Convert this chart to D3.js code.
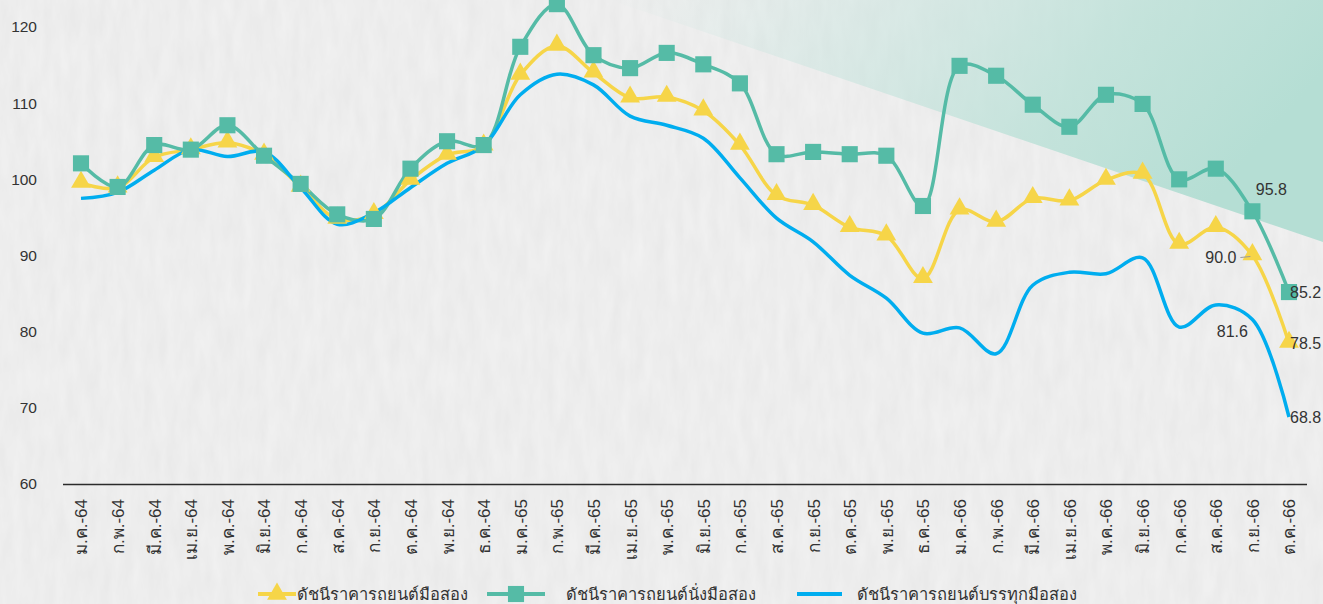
<!DOCTYPE html>
<html>
<head>
<meta charset="utf-8">
<script src="https://cdn.jsdelivr.net/npm/d3@7"></script>
<style>
  body { margin: 0; background: #efeeee; }
  svg { display: block; }
  text { font-family: "Liberation Sans", "DejaVu Sans", sans-serif; fill: #333; }
</style>
</head>
<body>
<div id="chart"></div>
<script>
// chart data
const months = ["ม.ค.-64","ก.พ.-64","มี.ค.-64","เม.ย.-64","พ.ค.-64","มิ.ย.-64","ก.ค.-64","ส.ค.-64","ก.ย.-64","ต.ค.-64","พ.ย.-64","ธ.ค.-64",
  "ม.ค.-65","ก.พ.-65","มี.ค.-65","เม.ย.-65","พ.ค.-65","มิ.ย.-65","ก.ค.-65","ส.ค.-65","ก.ย.-65","ต.ค.-65","พ.ย.-65","ธ.ค.-65",
  "ม.ค.-66","ก.พ.-66","มี.ค.-66","เม.ย.-66","พ.ค.-66","มิ.ย.-66","ก.ค.-66","ส.ค.-66","ก.ย.-66","ต.ค.-66"];
const usedCar = [99.5,98.9,102.9,103.9,104.8,103.2,99.0,94.8,95.4,99.9,103.2,104.4,
  113.7,117.5,114.0,110.7,110.8,109.0,104.5,97.9,96.6,93.7,92.6,87.0,
  96.0,94.4,97.5,97.2,99.9,100.7,91.5,93.7,90.0,78.5];
const usedPassenger = [102.1,99.0,104.5,103.9,107.1,103.1,99.4,95.4,94.8,101.4,105.0,104.5,
  117.4,123.0,116.3,114.6,116.6,115.1,112.6,103.3,103.6,103.3,103.1,96.5,
  114.9,113.6,109.8,106.9,111.1,109.9,100.0,101.4,95.8,85.2];
const usedPickup = [97.5,98.3,101.2,103.9,103.0,103.6,98.9,94.1,95.6,98.9,102.1,104.4,
  111.1,113.8,112.4,108.3,107.1,105.4,100.2,94.9,91.8,87.4,84.4,79.8,
  80.5,77.1,86.1,87.8,87.6,89.7,80.6,83.5,81.6,68.8];
const yTicks = [60,70,80,90,100,110,120];
const seriesNames = ["ดัชนีราคารถยนต์มือสอง","ดัชนีราคารถยนต์นั่งมือสอง","ดัชนีราคารถยนต์บรรทุกมือสอง"];

const WIDTH = 1323, HEIGHT = 604;
const COLORS = ["#f6d548", "#55bba6", "#00adef"];

const svg = d3.select("#chart").append("svg")
    .attr("width", WIDTH)
    .attr("height", HEIGHT);

// background + teal corner
const defs = svg.append("defs");
const grad = defs.append("linearGradient").attr("id", "teal")
    .attr("x1", "0").attr("y1", "0").attr("x2", "1").attr("y2", "0.3");
grad.append("stop").attr("offset", "0").attr("stop-color", "#c3e3dc").attr("stop-opacity", 0);
grad.append("stop").attr("offset", "0.35").attr("stop-color", "#c3e3dc").attr("stop-opacity", 0.45);
grad.append("stop").attr("offset", "0.7").attr("stop-color", "#bde1d8").attr("stop-opacity", 0.85);
grad.append("stop").attr("offset", "1").attr("stop-color", "#b5ded4").attr("stop-opacity", 1);

const filt = defs.append("filter").attr("id", "paper");
filt.append("feTurbulence").attr("type", "fractalNoise")
    .attr("baseFrequency", "0.09 0.025").attr("numOctaves", 3).attr("seed", 4);
filt.append("feColorMatrix").attr("type", "matrix")
    .attr("values", "0 0 0 0 1  0 0 0 0 1  0 0 0 0 1  0 0 0 0.45 -0.08");

svg.append("rect").attr("width", WIDTH).attr("height", HEIGHT).attr("fill", "#eaeaea");
svg.append("rect").attr("width", WIDTH).attr("height", HEIGHT).attr("filter", "url(#paper)");
svg.append("path")
    .attr("d", "M610,0 L1323,0 L1323,242 Z")
    .attr("fill", "url(#teal)");

const x = d3.scalePoint().domain(months).range([81, 1289]);
const y = d3.scaleLinear().domain([60, 120]).range([484, 27]);

// y axis labels only
const yAxis = svg.append("g")
    .attr("transform", "translate(37,0)")
    .call(d3.axisLeft(y).tickValues(yTicks).tickSize(0).tickPadding(0));
yAxis.select(".domain").remove();
yAxis.selectAll("text").attr("font-size", "15.5px").attr("fill", "#333")
    .style("font-family", "'Liberation Sans', sans-serif");

// x axis
const xAxis = svg.append("g")
    .attr("transform", "translate(0,484)")
    .call(d3.axisBottom(x).tickSize(0).tickPadding(0));
xAxis.select(".domain").remove();
svg.append("line").attr("x1", 63).attr("x2", 1307).attr("y1", 484.5).attr("y2", 484.5)
    .attr("stroke", "#2b2b2b").attr("stroke-width", 1.5);
xAxis.selectAll("text")
    .attr("font-size", "17px")
    .attr("fill", "#333")
    .attr("text-anchor", "end")
    .attr("dy", "0.35em")
    .attr("transform", "translate(0,15) rotate(-90)")
    .attr("y", 0).attr("x", 0);

const line = d3.line()
    .x((d, i) => x(months[i]))
    .y(d => y(d))
    .curve(d3.curveCatmullRom.alpha(0.5));

const allSeries = [usedCar, usedPassenger, usedPickup];
allSeries.forEach((s, k) => {
  svg.append("path")
    .datum(s)
    .attr("fill", "none")
    .attr("stroke", COLORS[k])
    .attr("stroke-width", 3.5)
    .attr("d", line);
});

// markers
const tri = d3.symbol().type(d3.symbolTriangle).size(170);
const sq = d3.symbol().type(d3.symbolSquare).size(260);
svg.selectAll(".tri").data(usedCar).enter().append("path")
    .attr("class", "tri")
    .attr("d", tri)
    .attr("transform", (d, i) => "translate(" + x(months[i]) + "," + (y(d) - 1) + ")")
    .attr("fill", COLORS[0]);
svg.selectAll(".sq").data(usedPassenger).enter().append("path")
    .attr("class", "sq")
    .attr("d", sq)
    .attr("transform", (d, i) => "translate(" + x(months[i]) + "," + y(d) + ")")
    .attr("fill", COLORS[1]);

// data labels for the last two months
const last = months.length - 1, prev = months.length - 2;
function label(txt, px, py, anchor) {
  svg.append("text").attr("x", px).attr("y", py)
    .attr("text-anchor", anchor).attr("dy", "0.35em")
    .attr("font-size", "16px").text(txt);
}
label(usedPassenger[prev].toFixed(1), x(months[prev]) + 19, y(usedPassenger[prev]) - 22, "middle");
label(usedCar[prev].toFixed(1), x(months[prev]) - 16, y(usedCar[prev]) + 2, "end");
svg.append("line")
    .attr("x1", x(months[prev]) - 12).attr("x2", x(months[prev]) - 2)
    .attr("y1", y(usedCar[prev]) + 2).attr("y2", y(usedCar[prev]) + 1)
    .attr("stroke", "#999").attr("stroke-width", 1);
label(usedPickup[prev].toFixed(1), x(months[prev]) - 20, y(usedPickup[prev]) + 12, "middle");
label(usedPassenger[last].toFixed(1), x(months[last]) + 1, y(usedPassenger[last]), "start");
label(usedCar[last].toFixed(1), x(months[last]) + 1, y(usedCar[last]), "start");
label(usedPickup[last].toFixed(1), x(months[last]) + 1, y(usedPickup[last]), "start");

// legend
const legendY = 594;
const legendItems = [
  { x1: 258, x2: 296, tx: 297, marker: tri },
  { x1: 487, x2: 545, tx: 566, marker: sq },
  { x1: 797, x2: 842, tx: 857, marker: null }
];
legendItems.forEach((it, k) => {
  svg.append("line").attr("x1", it.x1).attr("x2", it.x2)
    .attr("y1", legendY).attr("y2", legendY)
    .attr("stroke", COLORS[k]).attr("stroke-width", 4);
  if (it.marker) {
    svg.append("path").attr("d", it.marker)
      .attr("transform", "translate(" + ((it.x1 + it.x2) / 2) + "," + legendY + ")")
      .attr("fill", COLORS[k]);
  }
  svg.append("text").attr("x", it.tx).attr("y", legendY).attr("dy", "0.35em")
    .attr("font-size", "16.5px").text(seriesNames[k]);
});
</script>
</body>
</html>
